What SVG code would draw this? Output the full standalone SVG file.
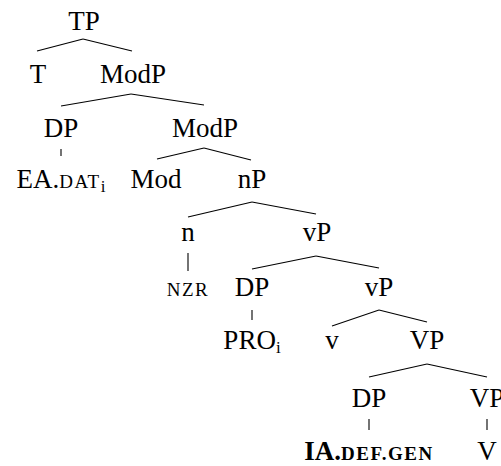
<svg xmlns="http://www.w3.org/2000/svg" width="501" height="466" viewBox="0 0 501 466">
  <style>
    .edge { stroke: #000; stroke-width: 1.1; }
  </style>
  <rect width="501" height="466" fill="#fff"/>

  <!-- branches -->
  <g id="connectors" class="edge">
    <line x1="37" y1="51" x2="83" y2="39"/>
    <line x1="83" y1="39" x2="132" y2="51"/>
    <line x1="61" y1="106" x2="131" y2="94"/>
    <line x1="131" y1="94" x2="204" y2="105"/>
    <line x1="61" y1="149" x2="61" y2="156"/>
    <line x1="157" y1="159" x2="204" y2="148"/>
    <line x1="204" y1="148" x2="251" y2="160"/>
    <line x1="188" y1="217" x2="252" y2="202"/>
    <line x1="252" y1="202" x2="316" y2="214"/>
    <line x1="188" y1="253" x2="188" y2="271"/>
    <line x1="252" y1="269" x2="316" y2="256"/>
    <line x1="316" y1="256" x2="379" y2="268"/>
    <line x1="252" y1="310" x2="252" y2="320"/>
    <line x1="332" y1="326" x2="379" y2="310"/>
    <line x1="379" y1="310" x2="427" y2="322"/>
    <line x1="369" y1="377" x2="427" y2="364"/>
    <line x1="427" y1="364" x2="487" y2="377"/>
    <line x1="369" y1="419" x2="369" y2="430"/>
    <line x1="487" y1="419" x2="487" y2="430"/>
  </g>

  <!-- node labels: presentation attributes shared by the wrapper group -->
  <g font-family="Liberation Serif" font-size="27" text-anchor="middle" fill="#000">
    <g id="tp"><text x="84" y="30">TP</text></g>
    <g id="t"><text x="38" y="83">T</text></g>
    <g id="modp1"><text x="133" y="83">ModP</text></g>
    <g id="dp1"><text x="61" y="137">DP</text></g>
    <g id="modp2"><text x="205" y="137">ModP</text></g>
    <g id="ea"><text x="61" y="188">EA.<tspan font-size="19" letter-spacing="1.5">DAT</tspan><tspan font-size="17" dy="4">i</tspan></text></g>
    <g id="mod"><text x="156" y="188">Mod</text></g>
    <g id="np"><text x="252" y="188">nP</text></g>
    <g id="n"><text x="188" y="241">n</text></g>
    <g id="vp1"><text x="317" y="241">vP</text></g>
    <g id="nzr"><text x="188" y="296" font-size="19" letter-spacing="1.5">NZR</text></g>
    <g id="dp2"><text x="252" y="296">DP</text></g>
    <g id="vp2"><text x="379" y="296">vP</text></g>
    <g id="pro"><text x="252" y="349">PRO<tspan font-size="17" dy="4">i</tspan></text></g>
    <g id="v"><text x="332" y="349">v</text></g>
    <g id="vp3"><text x="427" y="349">VP</text></g>
    <g id="dp3"><text x="369" y="407">DP</text></g>
    <g id="vp4"><text x="487" y="407">VP</text></g>
    <g id="ia"><text x="369" y="460" font-weight="bold">IA.<tspan font-size="19" letter-spacing="1.5">DEF.GEN</tspan></text></g>
    <g id="verb"><text x="487" y="460">V</text></g>
  </g>
</svg>
